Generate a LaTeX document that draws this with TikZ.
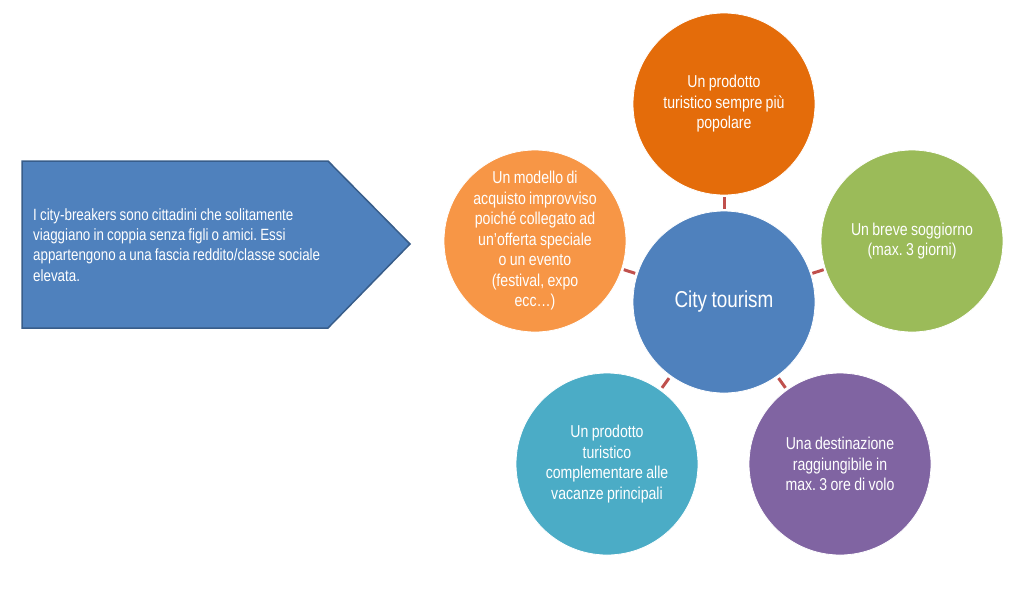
\documentclass[tikz,border=0pt]{standalone}
\usepackage{fontspec}
\setmainfont{Liberation Sans}[FakeStretch=0.82,WordSpace=0.85]
\frenchspacing
\usetikzlibrary{calc}
\definecolor{cblue}{HTML}{4F81BD}
\definecolor{cblueD}{HTML}{385D8A}
\definecolor{corange}{HTML}{E46C0A}
\definecolor{clorange}{HTML}{F79646}
\definecolor{cgreen}{HTML}{9BBB59}
\definecolor{cpurple}{HTML}{8064A2}
\definecolor{ccyan}{HTML}{4BACC6}
\definecolor{cred}{HTML}{C0504D}
\tikzset{
  bub/.style={circle, minimum size=182pt, inner sep=0pt, draw=white, line width=0.8pt},
  lbl/.style={text=white, align=center, inner sep=0pt, font=\fontsize{17.2}{20.5}\selectfont},
  conn/.style={draw=cred, line width=3pt},
}
\begin{document}
\begin{tikzpicture}[x=1pt,y=-1pt]
\useasboundingbox (0,0) rectangle (1023,598);
% arrow
\draw[fill=cblue, draw=cblueD, line width=1.5pt]
  (22,161) -- (328,161) -- (410,244) -- (328,328) -- (22,328) -- cycle;
\node[anchor=west, text=white, align=left, font=\fontsize{16.3}{20.3}\selectfont, inner sep=0pt]
  (txt) at (33,245) {I city-breakers sono cittadini che solitamente\\viaggiano in coppia senza figli o amici. Essi\\appartengono a una fascia reddito/classe sociale\\elevata.};
% circles
\node[bub, fill=cblue, label={[lbl, font=\fontsize{23}{26}\selectfont]center:City tourism}] (c) at (724,302) {};
\node[bub, fill=corange, label={[lbl]center:{Un prodotto\\turistico sempre più\\popolare}}] (t) at (724,104) {};
\node[bub, fill=cgreen, label={[lbl]center:{Un breve soggiorno\\(max. 3 giorni)}}] (g) at (912,241) {};
\node[bub, fill=cpurple, label={[lbl]center:{Una destinazione\\raggiungibile in\\max. 3 ore di volo}}] (p) at (840,464) {};
\node[bub, fill=ccyan, label={[lbl]center:{Un prodotto\\turistico\\complementare alle\\vacanze principali}}] (b) at (607,464) {};
\node[bub, fill=clorange, label={[lbl]center:{Un modello di\\acquisto improvviso\\poiché collegato ad\\un'offerta speciale\\o un evento\\(festival, expo\\ecc…)}}] (o) at (535,241) {};
% connectors
\foreach \n in {t,g,p,b,o}{
  \draw[conn] ($(c)!0.47!(\n)$) -- ($(c)!0.53!(\n)$);
}
\end{tikzpicture}
\end{document}
